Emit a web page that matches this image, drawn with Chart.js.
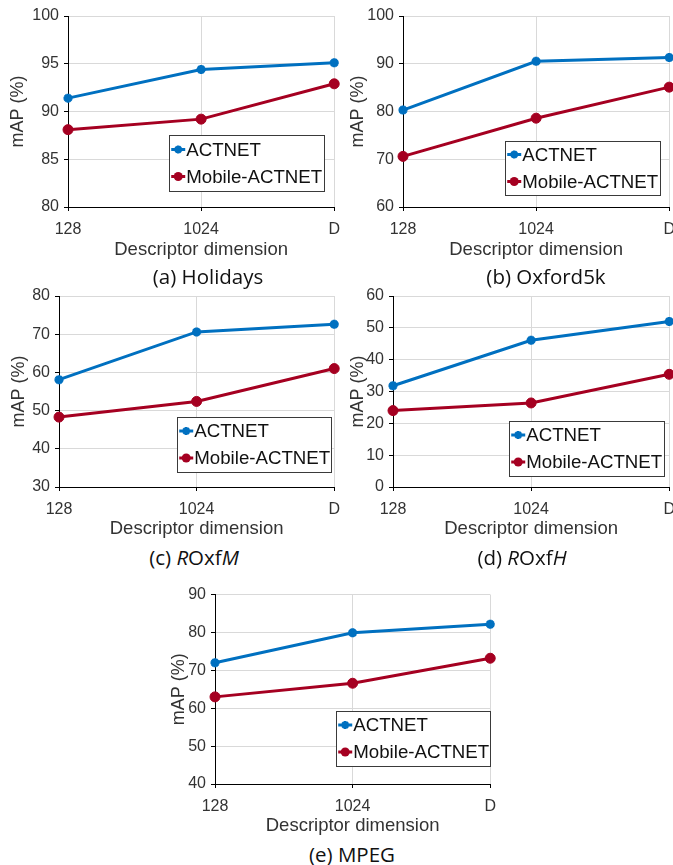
<!DOCTYPE html>
<html>
<head>
<meta charset="utf-8">
<script src="https://cdn.jsdelivr.net/npm/chart.js@4/dist/chart.umd.min.js"></script>
<style>
  html, body { margin: 0; padding: 0; background: #fff; overflow: hidden; width: 673px; height: 865px; }
  .panel { position: absolute; }
  .cap { position: absolute; width: 240px; text-align: center; font-family: 'Open Sans', 'Noto Sans', sans-serif; font-size: 20.5px; line-height: 24px; color: #111; white-space: nowrap; }
</style>
</head>
<body>
<div class="panel" style="left:0px;top:0px"><canvas id="ca" width="349" height="261"></canvas></div>
<div class="panel" style="left:340px;top:0px"><canvas id="cb" width="344" height="261"></canvas></div>
<div class="panel" style="left:0px;top:280px"><canvas id="cc" width="349" height="260"></canvas></div>
<div class="panel" style="left:340px;top:280px"><canvas id="cd" width="344" height="260"></canvas></div>
<div class="panel" style="left:160px;top:580px"><canvas id="ce" width="345" height="257"></canvas></div>

<div class="cap" style="left:88px;top:264px">(a) Holidays</div>
<div class="cap" style="left:426px;top:264px">(b) Oxford5k</div>
<div class="cap" style="left:74px;top:545px">(c) <i>R</i>Oxf<i>M</i></div>
<div class="cap" style="left:402px;top:545px">(d) <i>R</i>Oxf<i>H</i></div>
<div class="cap" style="left:232px;top:842px">(e) MPEG</div>

<script>
// ---- data ----
const categories = ['128', '1024', 'D'];
const seriesNames = ['ACTNET', 'Mobile-ACTNET'];

const holidaysACTNET = [91.4, 94.4, 95.1];
const holidaysMobile = [88.1, 89.2, 92.9];

const oxfordACTNET = [80.3, 90.5, 91.3];
const oxfordMobile = [70.6, 78.6, 85.1];

const roxfMACTNET = [58.1, 70.6, 72.6];
const roxfMMobile = [48.3, 52.4, 61.0];

const roxfHACTNET = [31.8, 46.1, 52.0];
const roxfHMobile = [24.0, 26.4, 35.4];

const mpegACTNET = [72.0, 79.9, 82.2];
const mpegMobile = [63.0, 66.6, 73.2];

const holidaysTicks = [80, 85, 90, 95, 100];
const oxfordTicks = [60, 70, 80, 90, 100];
const roxfMTicks = [30, 40, 50, 60, 70, 80];
const roxfHTicks = [0, 10, 20, 30, 40, 50, 60];
const mpegTicks = [40, 50, 60, 70, 80, 90];

const xTitle = 'Descriptor dimension';
const yTitle = 'mAP (%)';

// ---- styling ----
const BLUE = '#0070C0';
const RED = '#A50021';
const FONT = "'Liberation Sans', Arial, sans-serif";
const TEXT = '#333333';

function drawMarker(ctx, style, x, y, r, color) {
  ctx.save();
  ctx.fillStyle = color;
  ctx.strokeStyle = color;
  if (style === 'circle') {
    ctx.beginPath();
    ctx.arc(x, y, r, 0, Math.PI * 2);
    ctx.fill();
  } else {
    ctx.lineWidth = 2.5;
    ctx.beginPath();
    for (let k = 0; k < 4; k++) {
      const a = k * Math.PI / 4;
      ctx.moveTo(x - Math.cos(a) * r, y - Math.sin(a) * r);
      ctx.lineTo(x + Math.cos(a) * r, y + Math.sin(a) * r);
    }
    ctx.stroke();
  }
  ctx.restore();
}

const boxLegend = {
  id: 'boxLegend',
  afterDatasetsDraw(chart, args, opts) {
    const ctx = chart.ctx;
    const ca = chart.chartArea;
    const w = opts.w, h = opts.h;
    const left = ca.right - opts.rightGap - w;
    const top = ca.bottom - opts.bottomGap - h;
    ctx.save();
    ctx.fillStyle = '#ffffff';
    ctx.fillRect(left, top, w, h);
    ctx.strokeStyle = '#3a3a3a';
    ctx.lineWidth = 1;
    ctx.strokeRect(Math.round(left) + 0.5, Math.round(top) + 0.5, w, h);
    const rows = [h / 2 - 13.5, h / 2 + 13.5];
    chart.data.datasets.forEach((ds, i) => {
      const cy = top + rows[i];
      ctx.strokeStyle = ds.borderColor;
      ctx.lineWidth = 3;
      ctx.beginPath();
      ctx.moveTo(left + 2, cy);
      ctx.lineTo(left + 16, cy);
      ctx.stroke();
      drawMarker(ctx, ds.pointStyle, left + 9, cy, ds.pointStyle === 'circle' ? 4.5 : 4, ds.borderColor);
      ctx.fillStyle = '#111';
      ctx.font = '18.7px ' + FONT;
      ctx.textBaseline = 'middle';
      ctx.textAlign = 'left';
      ctx.fillText(ds.label, left + 17, cy + 1);
    });
    ctx.restore();
  }
};

function makeChart(id, geo, act, mob, ticks, legendOpts) {
  const yMin = ticks[0], yMax = ticks[ticks.length - 1];
  const step = ticks[1] - ticks[0];
  return new Chart(document.getElementById(id), {
    type: 'line',
    data: {
      labels: categories,
      datasets: [
        { label: seriesNames[0], data: act, borderColor: BLUE, backgroundColor: BLUE, borderWidth: 3,
          pointStyle: 'star', pointRadius: 4.5, pointBorderWidth: 3, pointBackgroundColor: BLUE, pointBorderColor: BLUE, tension: 0 },
        { label: seriesNames[1], data: mob, borderColor: RED, backgroundColor: RED, borderWidth: 3,
          pointStyle: 'circle', pointRadius: 5, pointBorderWidth: 1, pointBackgroundColor: RED, pointBorderColor: RED, tension: 0 }
      ]
    },
    plugins: [boxLegend],
    options: {
      responsive: false,
      animation: false,
      devicePixelRatio: 1,
      layout: { padding: { top: geo.padTop, right: 0, left: 0, bottom: 0 } },
      plugins: {
        legend: { display: false },
        tooltip: { enabled: false },
        boxLegend: legendOpts
      },
      scales: {
        x: {
          type: 'category',
          offset: false,
          grid: { color: '#d9d9d9', lineWidth: 1, tickColor: '#000', tickLength: 4, offset: false },
          border: { color: '#000', width: 1 },
          ticks: { color: TEXT, font: { family: FONT, size: 16 }, padding: 9, maxRotation: 0, autoSkip: false },
          title: { display: true, text: xTitle, color: TEXT, font: { family: FONT, size: 18.5 }, padding: { top: 0, bottom: 0 } },
          afterFit(scale) { scale.height = geo.xHeight; }
        },
        y: {
          min: yMin, max: yMax,
          afterBuildTicks(scale) { scale.ticks = ticks.map(v => ({ value: v })); },
          grid: { color: '#d9d9d9', lineWidth: 1, tickColor: '#000', tickLength: 4 },
          border: { color: '#000', width: 1 },
          ticks: { color: TEXT, font: { family: FONT, size: 16 }, padding: 5, stepSize: step },
          title: { display: true, text: yTitle, color: TEXT, font: { family: FONT, size: 18 }, padding: { top: geo.yTitlePad, bottom: 0 } },
          afterFit(scale) { scale.width = geo.yWidth; }
        }
      }
    }
  });
}

// geometry: canvas-relative
makeChart('ca', { padTop: 16, yWidth: 68, xHeight: 54, yTitlePad: 7.2 },
  holidaysACTNET, holidaysMobile, holidaysTicks, { rightGap: 10, bottomGap: 16, w: 155, h: 56 });
makeChart('cb', { padTop: 16, yWidth: 63, xHeight: 54, yTitlePad: 7.2 },
  oxfordACTNET, oxfordMobile, oxfordTicks, { rightGap: 9, bottomGap: 12, w: 155, h: 54 });
makeChart('cc', { padTop: 16, yWidth: 59, xHeight: 53, yTitlePad: 8.2 },
  roxfMACTNET, roxfMMobile, roxfMTicks, { rightGap: 3, bottomGap: 15, w: 154, h: 55 });
makeChart('cd', { padTop: 16, yWidth: 53, xHeight: 53, yTitlePad: 7.2 },
  roxfHACTNET, roxfHMobile, roxfHTicks, { rightGap: 5, bottomGap: 11, w: 155, h: 55 });
makeChart('ce', { padTop: 14, yWidth: 55, xHeight: 53, yTitlePad: 8.2 },
  mpegACTNET, mpegMobile, mpegTicks, { rightGap: 0, bottomGap: 18, w: 154, h: 55 });
</script>
</body>
</html>
